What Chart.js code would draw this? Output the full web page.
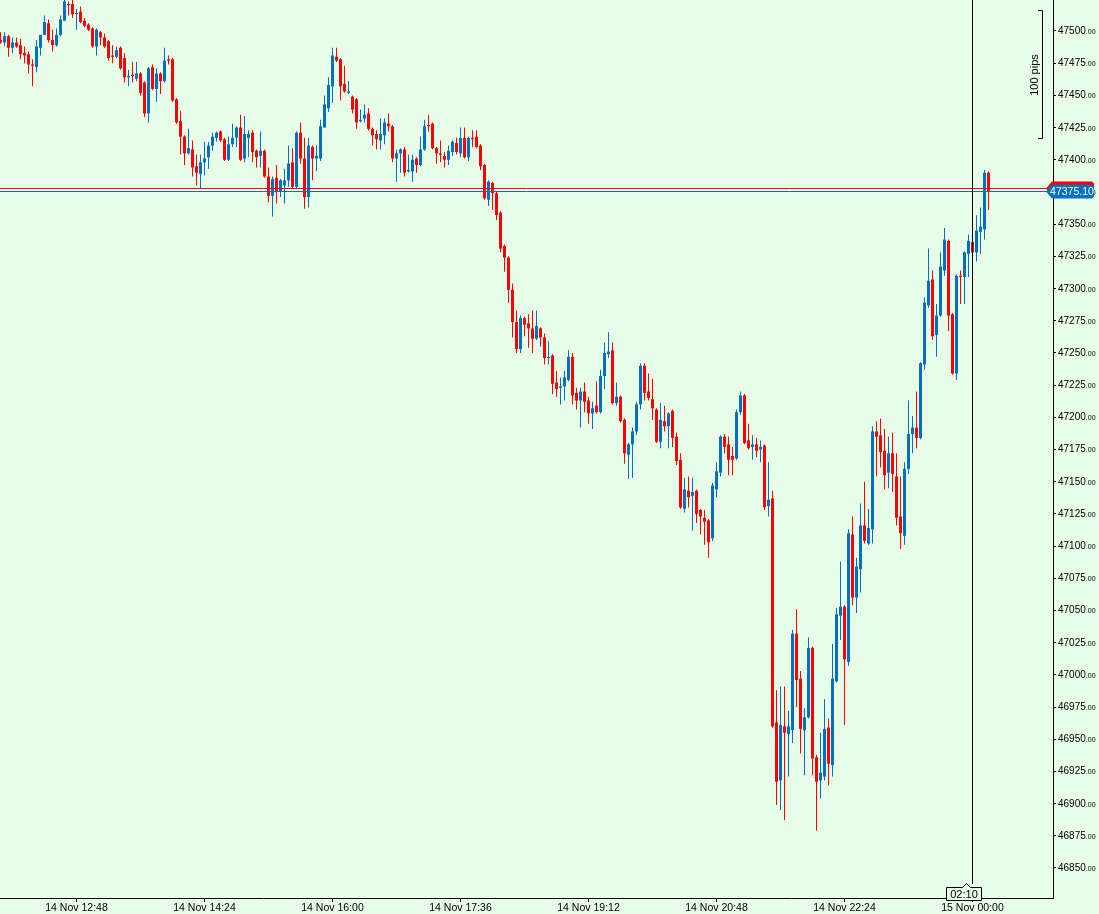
<!DOCTYPE html>
<html>
<head>
<meta charset="utf-8">
<script src="https://cdn.jsdelivr.net/npm/chart.js@4.4.1/dist/chart.umd.min.js"></script>
<style>
  html, body { margin: 0; padding: 0; background: #E8FDE8; }
  canvas { display: block; }
</style>
</head>
<body>
<canvas id="chart" width="1099" height="914"></canvas>
<script>
// 3-minute candles, 14 Nov 11:51 -> 15 Nov 00:12 (index 0..247)
var opens = [
  47493, 47491, 47496, 47487, 47491, 47489, 47483, 47482, 47474, 47472,
  47487, 47497, 47506, 47493, 47489, 47497, 47508, 47521, 47521, 47513,
  47515, 47508, 47505, 47502, 47488, 47499, 47495, 47492, 47481, 47480,
  47487, 47479, 47464, 47466, 47463, 47467, 47460, 47436, 47472, 47455,
  47467, 47461, 47478, 47478, 47447, 47430, 47418, 47405, 47408, 47395,
  47389, 47398, 47402, 47411, 47417, 47422, 47416, 47400, 47412, 47417,
  47425, 47401, 47417, 47421, 47407, 47403, 47407, 47387, 47372, 47386,
  47375, 47380, 47384, 47398, 47379, 47421, 47401, 47371, 47410, 47401,
  47401, 47425, 47440, 47457, 47480, 47478, 47459, 47452, 47449, 47447,
  47430, 47432, 47436, 47424, 47420, 47415, 47419, 47428, 47426, 47401,
  47405, 47408, 47391, 47391, 47401, 47396, 47408, 47427, 47428, 47409,
  47405, 47403, 47400, 47406, 47413, 47405, 47417, 47402, 47417, 47418,
  47411, 47396, 47369, 47382, 47374, 47359, 47333, 47324, 47299, 47274,
  47253, 47277, 47273, 47269, 47261, 47269, 47262, 47246, 47248, 47227,
  47223, 47224, 47229, 47247, 47219, 47213, 47220, 47213, 47203, 47209,
  47204, 47232, 47249, 47252, 47211, 47216, 47198, 47171, 47179, 47189,
  47210, 47240, 47220, 47214, 47206, 47181, 47197, 47193, 47205, 47185,
  47167, 47129, 47143, 47139, 47143, 47128, 47122, 47120, 47106, 47144,
  47157, 47185, 47179, 47170, 47168, 47204, 47217, 47182, 47177, 47179,
  47175, 47178, 47131, 47137, 46963, 46918, 46960, 46954, 46957, 47032,
  46997, 46957, 46967, 47021, 46936, 46918, 46921, 46959, 46930, 46995,
  47046, 47053, 47010, 47109, 47060, 47082, 47116, 47102, 47113, 47189,
  47186, 47174, 47157, 47172, 47154, 47123, 47108, 47160, 47187, 47192,
  47184, 47241, 47287, 47307, 47264, 47279, 47314, 47337, 47280, 47234,
  47310, 47309, 47327, 47336, 47328, 47344, 47346, 47390
];
var highs = [
  47499, 47499, 47497, 47495, 47495, 47494, 47488, 47484, 47478, 47493,
  47497, 47512, 47509, 47501, 47502, 47512, 47524, 47523, 47524, 47517,
  47519, 47510, 47506, 47503, 47502, 47500, 47498, 47493, 47489, 47488,
  47488, 47483, 47470, 47476, 47476, 47468, 47461, 47472, 47474, 47471,
  47468, 47487, 47481, 47479, 47448, 47438, 47419, 47424, 47415, 47404,
  47404, 47414, 47414, 47421, 47422, 47423, 47417, 47418, 47428, 47426,
  47435, 47434, 47423, 47423, 47408, 47422, 47408, 47394, 47387, 47396,
  47385, 47393, 47411, 47409, 47422, 47429, 47417, 47417, 47411, 47411,
  47431, 47450, 47464, 47487, 47487, 47479, 47473, 47461, 47450, 47448,
  47439, 47443, 47440, 47425, 47423, 47432, 47432, 47436, 47427, 47408,
  47409, 47410, 47404, 47404, 47402, 47418, 47431, 47435, 47429, 47410,
  47415, 47406, 47411, 47415, 47417, 47425, 47425, 47418, 47423, 47423,
  47412, 47397, 47384, 47383, 47375, 47360, 47334, 47325, 47304, 47283,
  47279, 47278, 47280, 47283, 47283, 47270, 47265, 47259, 47249, 47236,
  47231, 47236, 47252, 47250, 47223, 47223, 47227, 47216, 47212, 47228,
  47237, 47258, 47266, 47258, 47227, 47217, 47199, 47180, 47192, 47212,
  47242, 47242, 47234, 47230, 47207, 47211, 47209, 47204, 47206, 47188,
  47172, 47153, 47154, 47153, 47144, 47129, 47128, 47121, 47149, 47165,
  47186, 47187, 47185, 47177, 47206, 47220, 47218, 47195, 47186, 47184,
  47182, 47179, 47165, 47143, 46988, 46991, 46991, 46972, 47035, 47051,
  47003, 46974, 47029, 47022, 46938, 46955, 46981, 46966, 47024, 47052,
  47088, 47054, 47113, 47123, 47091, 47133, 47150, 47129, 47193, 47197,
  47199, 47191, 47185, 47188, 47172, 47154, 47165, 47213, 47201, 47220,
  47243, 47293, 47331, 47314, 47288, 47328, 47347, 47338, 47281, 47311,
  47314, 47329, 47342, 47337, 47357, 47363, 47392, 47391
];
var lows = [
  47490, 47488, 47480, 47483, 47487, 47478, 47475, 47467, 47457, 47468,
  47481, 47497, 47491, 47484, 47488, 47496, 47508, 47512, 47510, 47501,
  47506, 47503, 47500, 47487, 47481, 47489, 47487, 47477, 47475, 47479,
  47470, 47460, 47457, 47460, 47461, 47450, 47433, 47429, 47454, 47445,
  47451, 47460, 47474, 47445, 47428, 47404, 47396, 47404, 47387, 47380,
  47378, 47388, 47393, 47407, 47414, 47414, 47399, 47399, 47410, 47410,
  47399, 47398, 47402, 47398, 47394, 47394, 47386, 47367, 47356, 47366,
  47371, 47366, 47379, 47378, 47378, 47397, 47362, 47363, 47384, 47391,
  47399, 47425, 47437, 47444, 47476, 47446, 47452, 47451, 47436, 47424,
  47429, 47429, 47423, 47411, 47408, 47408, 47412, 47422, 47398, 47383,
  47390, 47387, 47390, 47383, 47390, 47395, 47407, 47422, 47408, 47397,
  47398, 47394, 47396, 47403, 47404, 47402, 47401, 47399, 47410, 47409,
  47392, 47369, 47364, 47361, 47353, 47328, 47313, 47289, 47262, 47250,
  47250, 47263, 47254, 47250, 47260, 47255, 47241, 47241, 47218, 47216,
  47210, 47213, 47228, 47210, 47206, 47192, 47204, 47195, 47191, 47203,
  47203, 47222, 47246, 47210, 47209, 47196, 47164, 47152, 47153, 47186,
  47206, 47213, 47213, 47198, 47180, 47176, 47189, 47176, 47177, 47163,
  47129, 47126, 47130, 47112, 47118, 47109, 47101, 47091, 47104, 47138,
  47154, 47172, 47155, 47155, 47167, 47202, 47179, 47175, 47167, 47169,
  47165, 47128, 47123, 46959, 46899, 46895, 46887, 46921, 46947, 46975,
  46939, 46922, 46966, 46922, 46879, 46904, 46918, 46914, 46921, 46994,
  47027, 46961, 47007, 47054, 47048, 47064, 47102, 47101, 47102, 47154,
  47161, 47144, 47145, 47142, 47116, 47098, 47101, 47156, 47172, 47176,
  47183, 47237, 47285, 47260, 47247, 47278, 47310, 47267, 47233, 47229,
  47288, 47288, 47309, 47306, 47321, 47327, 47338, 47361
];
var closes = [
  47491, 47496, 47487, 47491, 47488, 47482, 47481, 47474, 47473, 47488,
  47497, 47507, 47493, 47489, 47497, 47509, 47523, 47520, 47513, 47514,
  47507, 47504, 47501, 47488, 47501, 47495, 47488, 47479, 47480, 47485,
  47471, 47464, 47465, 47465, 47467, 47452, 47436, 47471, 47455, 47467,
  47461, 47477, 47477, 47446, 47429, 47418, 47405, 47409, 47394, 47390,
  47398, 47401, 47411, 47418, 47421, 47415, 47400, 47412, 47417, 47425,
  47400, 47420, 47420, 47406, 47402, 47407, 47387, 47372, 47385, 47375,
  47384, 47384, 47397, 47379, 47421, 47401, 47371, 47411, 47401, 47403,
  47426, 47443, 47458, 47481, 47477, 47457, 47453, 47453, 47439, 47429,
  47431, 47435, 47424, 47419, 47416, 47420, 47429, 47426, 47401, 47405,
  47408, 47390, 47392, 47400, 47396, 47408, 47426, 47426, 47409, 47405,
  47404, 47400, 47407, 47414, 47406, 47417, 47402, 47417, 47416, 47410,
  47395, 47370, 47383, 47374, 47357, 47331, 47324, 47299, 47274, 47253,
  47277, 47272, 47269, 47261, 47271, 47262, 47246, 47247, 47226, 47222,
  47224, 47231, 47247, 47217, 47213, 47220, 47212, 47203, 47207, 47204,
  47232, 47250, 47251, 47211, 47216, 47197, 47172, 47179, 47189, 47210,
  47240, 47219, 47215, 47207, 47181, 47198, 47193, 47203, 47184, 47166,
  47130, 47144, 47138, 47142, 47125, 47123, 47119, 47103, 47147, 47158,
  47185, 47177, 47167, 47167, 47204, 47217, 47180, 47176, 47179, 47174,
  47177, 47130, 47136, 46960, 46917, 46961, 46955, 46960, 47032, 46996,
  46958, 46967, 47021, 46935, 46917, 46924, 46958, 46931, 46997, 47047,
  47053, 47012, 47110, 47060, 47084, 47116, 47104, 47114, 47189, 47185,
  47173, 47155, 47172, 47156, 47122, 47110, 47160, 47187, 47192, 47184,
  47242, 47289, 47306, 47263, 47279, 47317, 47338, 47279, 47234, 47310,
  47309, 47328, 47337, 47328, 47345, 47348, 47390, 47375.1
];

// time axis: candle index of each label
var timeTicks = [19, 51, 83, 115, 147, 179, 211, 243];
var timeLabels = ["14 Nov 12:48", "14 Nov 14:24", "14 Nov 16:00", "14 Nov 17:36",
                  "14 Nov 19:12", "14 Nov 20:48", "14 Nov 22:24", "15 Nov 00:00"];
var priceTicks = [46850, 46875, 46900, 46925, 46950, 46975, 47000, 47025, 47050,
                  47075, 47100, 47125, 47150, 47175, 47200, 47225, 47250, 47275,
                  47300, 47325, 47350, 47375, 47400, 47425, 47450, 47475, 47500];
var bid = 47375.10;
var ask = 47377.8;
var dayBreak = 243;      // 15 Nov 00:00
var countdown = "02:10";
var pipsLabel = "100 pips";

var BG = "#E8FDE8";
var BULL = "#0070C0";
var BEAR = "#FF0000";
var FONT = '"Liberation Sans", Arial, sans-serif';

var colors = opens.map(function (o, i) { return closes[i] >= o ? BULL : BEAR; });
var wicks = opens.map(function (o, i) { return { x: i, y: [lows[i], highs[i]] }; });
var bodies = opens.map(function (o, i) { return { x: i, y: [o, closes[i]] }; });

var background = {
  id: 'background',
  beforeDraw: function (chart) {
    var ctx = chart.ctx;
    ctx.save();
    ctx.fillStyle = BG;
    ctx.fillRect(0, 0, chart.width, chart.height);
    ctx.restore();
  }
};

function priceTag(ctx, y, color) {
  var x0 = 1046, x1 = 1052, x2 = 1094, h = 7;
  ctx.beginPath();
  ctx.moveTo(x0, y);
  ctx.lineTo(x1, y - h);
  ctx.lineTo(x2 - 2, y - h);
  ctx.lineTo(x2, y - h + 2);
  ctx.lineTo(x2, y + h - 2);
  ctx.lineTo(x2 - 2, y + h);
  ctx.lineTo(x1, y + h);
  ctx.closePath();
  ctx.fillStyle = color;
  ctx.fill();
}

var overlay = {
  id: 'overlay',
  afterDraw: function (chart) {
    var ctx = chart.ctx, xs = chart.scales.x, ys = chart.scales.y, area = chart.chartArea;
    ctx.save();
    ctx.lineWidth = 1;
    ctx.strokeStyle = '#000';

    // time tick marks under the axis line
    timeTicks.forEach(function (v) {
      var x = Math.floor(xs.getPixelForValue(v)) + 0.5;
      ctx.beginPath(); ctx.moveTo(x, xs.top); ctx.lineTo(x, xs.top + 4); ctx.stroke();
    });

    // price labels with small decimals
    ctx.fillStyle = '#000';
    ctx.textAlign = 'left';
    ctx.textBaseline = 'alphabetic';
    priceTicks.forEach(function (v) {
      var y = Math.round(ys.getPixelForValue(v)) + 3;
      var s = String(v);
      ctx.font = '10px ' + FONT;
      ctx.fillText(s, ys.left + 5, y);
      var w = ctx.measureText(s).width;
      ctx.font = '7px ' + FONT;
      ctx.fillText('.00', ys.left + 5 + w, y);
    });

    // bid / ask lines
    var ya = Math.floor(ys.getPixelForValue(ask)) + 0.5;
    var yb = Math.floor(ys.getPixelForValue(bid)) + 0.5;
    ctx.strokeStyle = BEAR;
    ctx.beginPath(); ctx.moveTo(area.left, ya); ctx.lineTo(area.right, ya); ctx.stroke();
    ctx.strokeStyle = BULL;
    ctx.beginPath(); ctx.moveTo(area.left, yb); ctx.lineTo(area.right, yb); ctx.stroke();

    // price tags
    priceTag(ctx, ya, BEAR);
    priceTag(ctx, yb, BULL);
    ctx.fillStyle = '#fff';
    ctx.font = '10.5px ' + FONT;
    ctx.textAlign = 'center';
    ctx.textBaseline = 'middle';
    ctx.fillText(bid.toFixed(2), 1072, yb + 0.5);

    // day separator
    var xd = Math.floor(xs.getPixelForValue(dayBreak)) + 0.5;
    ctx.strokeStyle = '#000';
    ctx.beginPath(); ctx.moveTo(xd, area.top); ctx.lineTo(xd, 884); ctx.stroke();

    // countdown box
    ctx.beginPath();
    ctx.moveTo(946.5, 887.5);
    ctx.lineTo(962.5, 887.5);
    ctx.lineTo(966.5, 883.5);
    ctx.lineTo(970.5, 887.5);
    ctx.lineTo(981.5, 887.5);
    ctx.lineTo(981.5, 900.5);
    ctx.lineTo(946.5, 900.5);
    ctx.closePath();
    ctx.fillStyle = BG;
    ctx.fill();
    ctx.stroke();
    ctx.fillStyle = '#000';
    ctx.font = '11px ' + FONT;
    ctx.fillText(countdown, 964, 894.5);

    // 100 pips ruler
    ctx.beginPath();
    ctx.moveTo(1038, 10.5); ctx.lineTo(1042.5, 10.5); ctx.lineTo(1042.5, 138.5); ctx.lineTo(1038, 138.5);
    ctx.stroke();
    ctx.translate(1035, 75);
    ctx.rotate(-Math.PI / 2);
    ctx.font = '11px ' + FONT;
    ctx.fillText(pipsLabel, 0, 0);

    ctx.restore();
  }
};

new Chart(document.getElementById("chart"), {
  type: 'bar',
  data: {
    datasets: [
      {
        data: bodies,
        backgroundColor: colors,
        barThickness: 3,
        minBarLength: 1,
        grouped: false,
        borderWidth: 0,
        inflateAmount: 0
      },
      {
        data: wicks,
        backgroundColor: colors,
        barThickness: 1,
        minBarLength: 1,
        grouped: false,
        borderWidth: 0,
        inflateAmount: 0
      }
    ]
  },
  options: {
    responsive: false,
    animation: false,
    devicePixelRatio: 1,
    layout: { padding: 0 },
    plugins: {
      legend: { display: false },
      tooltip: { enabled: false }
    },
    scales: {
      x: {
        type: 'linear',
        min: -0.125,
        max: 263.125,
        offset: false,
        grid: { display: true, drawOnChartArea: false, drawTicks: false, color: '#000' },
        border: { display: true, color: '#000' },
        ticks: {
          autoSkip: false,
          maxRotation: 0,
          padding: 4,
          color: '#000',
          font: { family: FONT, size: 10.5 },
          callback: function (v, i) { return timeLabels[i]; }
        },
        afterBuildTicks: function (s) { s.ticks = timeTicks.map(function (v) { return { value: v }; }); },
        afterFit: function (s) { s.height = 16; }
      },
      y: {
        position: 'right',
        min: 46826.7,
        max: 47524.07,
        grid: { drawOnChartArea: false, drawTicks: true, tickLength: 3, color: '#000' },
        border: { display: true, color: '#000' },
        ticks: { display: false },
        afterBuildTicks: function (s) { s.ticks = priceTicks.map(function (v) { return { value: v }; }); },
        afterFit: function (s) { s.width = 46; }
      }
    }
  },
  plugins: [background, overlay]
});
</script>
</body>
</html>
